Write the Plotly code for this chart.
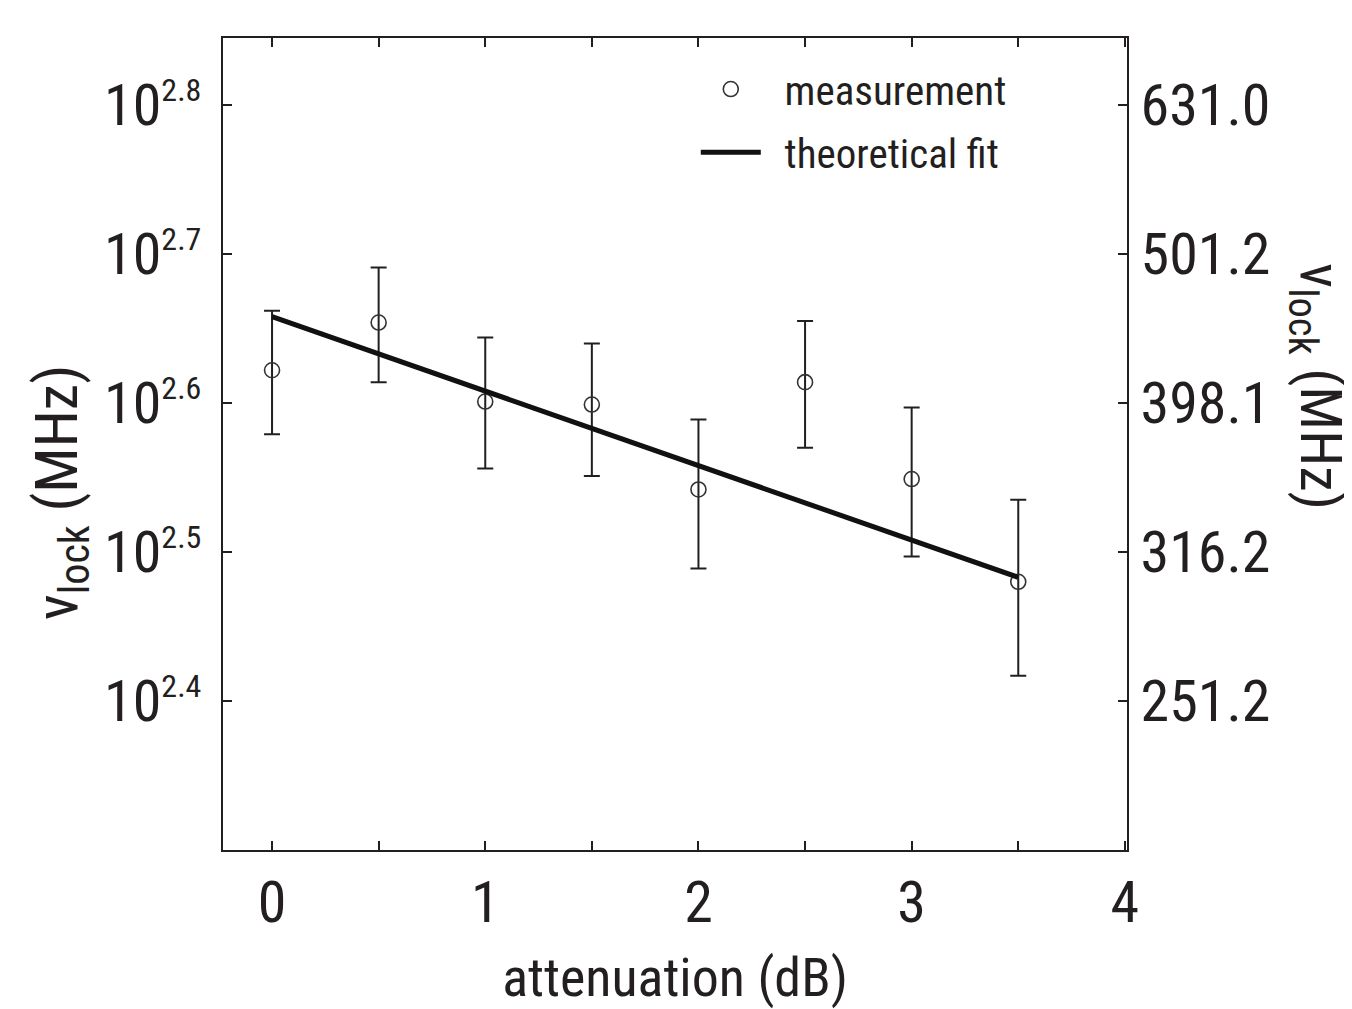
import numpy as np
import plotly.graph_objects as go

# attenuation (dB) and log10 of the locking range (MHz)
atten = [0, 0.5, 1, 1.5, 2, 2.5, 3, 3.5]
log_nu = [2.622, 2.654, 2.601, 2.599, 2.542, 2.614, 2.549, 2.480]
log_hi = [2.662, 2.691, 2.644, 2.640, 2.589, 2.655, 2.597, 2.535]
log_lo = [2.579, 2.614, 2.556, 2.551, 2.489, 2.570, 2.497, 2.417]

fit_x = [0, 3.5]
fit_log = [2.658, 2.483]

log_ticks = [2.4, 2.5, 2.6, 2.7, 2.8]
exp_labels = ['2.4', '2.5', '2.6', '2.7', '2.8']
right_labels = ['251.2', '316.2', '398.1', '501.2', '631.0']

x_ticks = [0, 0.5, 1, 1.5, 2, 2.5, 3, 3.5, 4]
x_labels = ['0', '', '1', '', '2', '', '3', '', '4']

nu = 10 ** np.array(log_nu)
err_up = 10 ** np.array(log_hi) - nu
err_dn = nu - 10 ** np.array(log_lo)

FONT = 'Liberation Sans Narrow, Roboto Condensed, Arial Narrow, sans-serif'
INK = '#231f20'
PAD = '\u00a0\u00a0'

left_labels = ['10<sup><span style="font-size:32px">%s</span></sup>' % e for e in exp_labels]

fig = go.Figure()
fig.add_trace(go.Scatter(
    x=atten, y=nu, mode='markers', name=PAD + 'measurement', legendgroup='m',
    marker=dict(symbol='circle-open', size=15, color='#333', line=dict(width=1.6)),
    error_y=dict(type='data', array=err_up, arrayminus=err_dn, color=INK, thickness=2, width=8),
))
fig.add_trace(go.Scatter(
    x=fit_x, y=10 ** np.array(fit_log), mode='lines', name=PAD + 'theoretical fit', legendgroup='f',
    line=dict(color='#111', width=5),
))
# invisible trace so the right axis is drawn
fig.add_trace(go.Scatter(x=[0], y=[10 ** 2.6], yaxis='y2', mode='markers',
                         marker=dict(opacity=0), showlegend=False, hoverinfo='skip'))

yr = [2.3, 2.845]
axis_common = dict(showgrid=False, zeroline=False, ticks='inside', ticklen=9,
                   tickwidth=2, tickcolor=INK, linecolor=INK, linewidth=2,
                   tickfont=dict(family=FONT, size=58, color=INK))

fig.update_layout(
    width=1352, height=1009,
    margin=dict(l=215, r=233, t=30, b=167),
    paper_bgcolor='white', plot_bgcolor='white',
    font=dict(family=FONT, color=INK),
    xaxis=dict(range=[-0.23, 4.01], tickvals=x_ticks, ticktext=x_labels,
               mirror='ticks', showline=True, ticklabelstandoff=0, **axis_common,
               title=dict(text='attenuation (dB)', font=dict(family=FONT, size=54, color=INK), standoff=24)),
    yaxis=dict(type='log', range=yr, tickvals=[10 ** v for v in log_ticks], ticktext=left_labels,
               showline=True, ticklabelstandoff=8, **axis_common),
    yaxis2=dict(type='log', range=yr, overlaying='y', side='right',
                tickvals=[10 ** v for v in log_ticks], ticktext=right_labels,
                showline=True, **axis_common),
    legend=dict(x=0.523, y=0.978, xanchor='left', yanchor='top', bgcolor='rgba(0,0,0,0)',
                font=dict(family=FONT, size=41, color=INK), itemwidth=60, tracegroupgap=7),
    showlegend=True,
)

fig.add_annotation(text='ν<sub>lock</sub> (MHz)', textangle=-90, xref='paper', yref='paper',
                   x=-0.18, y=0.44, xanchor='center', yanchor='middle', showarrow=False,
                   font=dict(family=FONT, size=60, color=INK))
fig.add_annotation(text='ν<sub>lock</sub> (MHz)', textangle=90, xref='paper', yref='paper',
                   x=1.21, y=0.57, xanchor='center', yanchor='middle', showarrow=False,
                   font=dict(family=FONT, size=58, color=INK))

fig.write_html('out.html')
